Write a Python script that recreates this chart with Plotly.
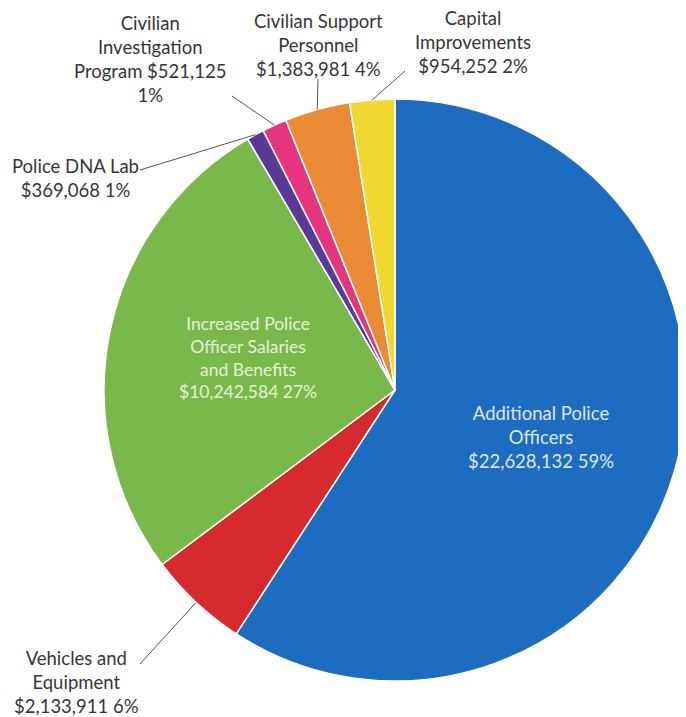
import math
import plotly.graph_objects as go

# ---- data ----
categories = [
    "Additional Police Officers",
    "Vehicles and Equipment",
    "Increased Police Officer Salaries and Benefits",
    "Police DNA Lab",
    "Civilian Investigation Program",
    "Civilian Support Personnel",
    "Capital Improvements",
]
values = [22628132, 2133911, 10242584, 369068, 521125, 1383981, 954252]
pct_labels = ["59%", "6%", "27%", "1%", "1%", "4%", "2%"]
colors = ["#1E6CC0", "#D52A2E", "#79B84A", "#5A3A96", "#E4357E", "#EB8A35", "#EFD832"]

W, H = 686, 717
OFF = 8  # page body margin
CX, CY, R = 395, 390, 291  # pie centre / radius in window pixels (layout)

def px2paper(x, y):
    return (x - OFF) / W, 1 - (y - OFF) / H

fig = go.Figure()
fig.add_trace(go.Pie(
    labels=categories,
    values=values,
    sort=False,
    direction="clockwise",
    rotation=0,
    marker=dict(colors=colors, line=dict(color="white", width=1.5)),
    textinfo="none",
    hovertemplate="%{label}<br>$%{value:,}<br>%{percent}<extra></extra>",
    showlegend=False,
    domain=dict(x=[(CX - R - OFF) / W, (CX + R - OFF) / W],
                y=[1 - (CY + R - OFF) / H, 1 - (CY - R - OFF) / H]),
))

def money(v):
    return "${:,}".format(v)

FONT = "Lato, Open Sans, sans-serif"
dark = "#363636"
label_specs = {
    0: ("Additional Police<br>Officers<br>{m} {p}", 541, 437, "#DCE8F6", 18.5),
    1: ("Vehicles and<br>Equipment<br>{m} {p}", 76, 682, dark, 18.5),
    2: ("Increased Police<br>Officer Salaries<br>and Benefits<br>{m} {p}", 248, 357, "#E6F2D6", 17.5),
    3: ("Police DNA Lab<br>{m} {p}", 75, 178, dark, 18.5),
    4: ("Civilian<br>Investigation<br>Program {m}<br>{p}", 150, 59, dark, 18.5),
    5: ("Civilian Support<br>Personnel<br>{m} {p}", 318, 45, dark, 18.5),
    6: ("Capital<br>Improvements<br>{m} {p}", 473, 42, dark, 18.5),
}
for i, (tmpl, x, y, col, size) in label_specs.items():
    xp, yp = px2paper(x, y)
    fig.add_annotation(
        x=xp, y=yp, xref="paper", yref="paper",
        text=tmpl.format(m=money(values[i]), p=pct_labels[i]),
        showarrow=False, align="center", xanchor="center", yanchor="middle",
        font=dict(family=FONT, size=size, color=col),
    )

# leader lines: from text end to the slice's mid-angle point on the rim
leader_start = {1: (140, 664), 3: (140, 170), 4: (232, 96), 5: (318, 79), 6: (405, 71)}
total = float(sum(values))
cum = 0.0
mids = []
for v in values:
    mids.append((cum + v / 2) / total * 2 * math.pi)
    cum += v
for i, (sx, sy) in leader_start.items():
    a = mids[i]
    ex = CX + R * math.sin(a)
    ey = CY - R * math.cos(a)
    x0, y0 = px2paper(sx, sy)
    x1, y1 = px2paper(ex, ey)
    fig.add_shape(type="line", xref="paper", yref="paper", x0=x0, y0=y0, x1=x1, y1=y1,
                  line=dict(color="#555555", width=1))

fig.update_layout(
    width=W, height=H,
    margin=dict(l=0, r=0, t=0, b=0),
    paper_bgcolor="white",
    plot_bgcolor="white",
)
fig.write_html("out.html")
